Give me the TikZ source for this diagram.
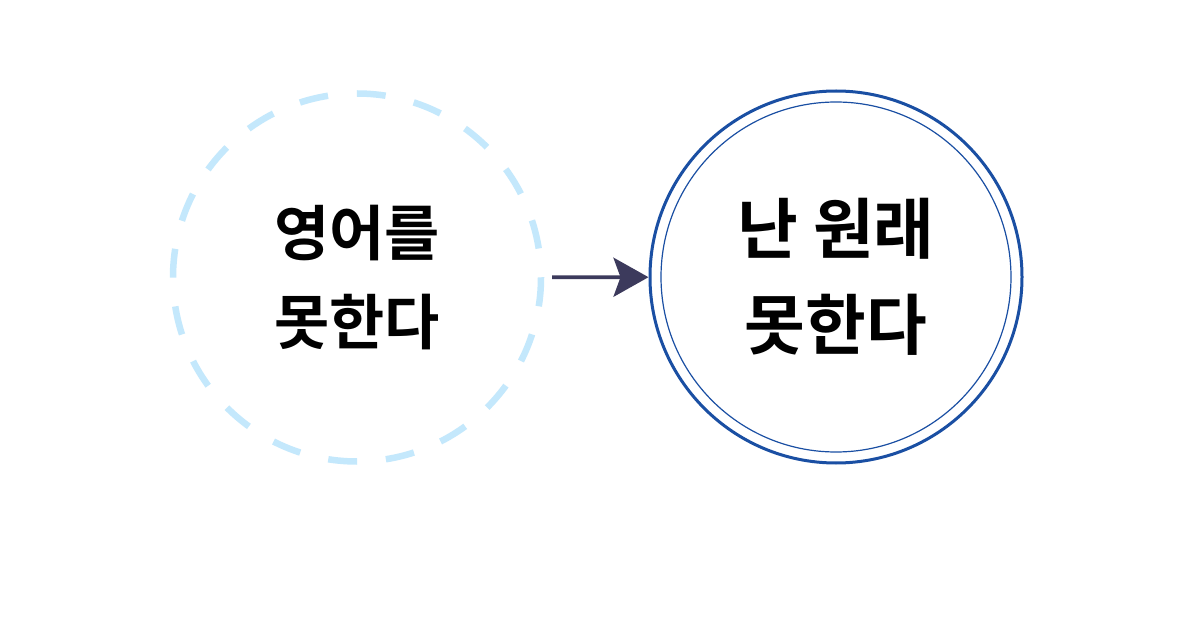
\documentclass[tikz,border=0pt]{standalone}
\usepackage{fontspec}
\newfontfamily\kr{Noto Sans CJK KR}[BoldFont={Noto Sans CJK KR Bold}]
\usetikzlibrary{arrows.meta}
\definecolor{dashblue}{HTML}{C4E8FC}
\definecolor{ringblue}{HTML}{1A4FA3}
\definecolor{arrowc}{HTML}{3C3A5C}
\tikzset{
  bubble/.style={circle, inner sep=0pt, outer sep=0pt, align=center, text=black},
  lefttext/.style={font=\kr\bfseries\fontsize{60}{89}\selectfont},
  righttext/.style={font=\kr\bfseries\fontsize{66}{96}\selectfont},
  dashring/.style={draw=dashblue, line width=6.5pt, dash pattern=on 28.9pt off 28.9pt},
  outerring/.style={draw=ringblue, line width=3pt},
  innerring/.style={draw=ringblue, line width=1.2pt},
  arrowline/.style={draw=arrowc, line width=3.6pt, -{Stealth[length=35pt, width=39pt, inset=7pt]}}
}
\begin{document}
\begin{tikzpicture}[x=1pt,y=-1pt]
\useasboundingbox (0,0) rectangle (1200,628);
\fill[white] (0,0) rectangle (1200,628);
\node[bubble, lefttext, minimum size=368pt] (L) at (357,277.5) {영어를\\못한다};
\draw[dashring] (L.east) arc[start angle=0, end angle=360, radius=184];
\node[bubble, righttext, minimum size=375pt] (R) at (836,277) {난 원래\\못한다};
\draw[outerring] (R.center) circle[radius=186];
\draw[innerring] (R.center) circle[radius=175];
\draw[arrowline, shorten <=11pt] (L) -- (R);
\end{tikzpicture}
\end{document}
